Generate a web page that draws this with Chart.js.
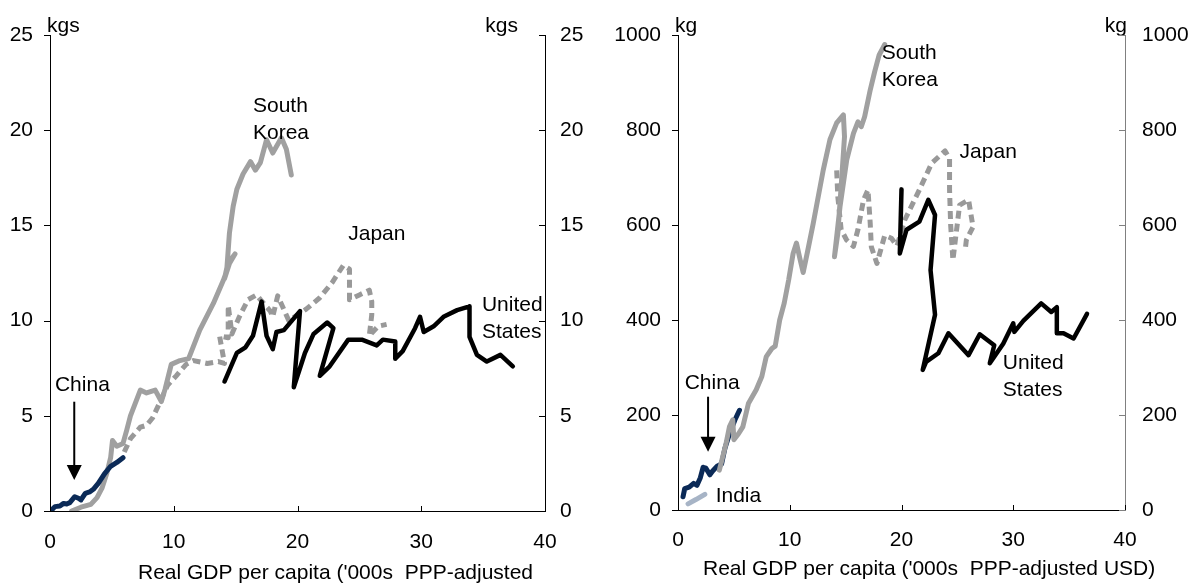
<!DOCTYPE html>
<html>
<head>
<meta charset="utf-8">
<script src="https://cdn.jsdelivr.net/npm/chart.js@4/dist/chart.umd.min.js"></script>
<style>
  html, body { margin: 0; padding: 0; background: #fff; overflow: hidden; }
  .panel { position: absolute; top: 0; width: 596px; height: 583px; }
  #left { left: 0; }
  #right { left: 596px; }
</style>
</head>
<body>
<div class="panel" id="left"><canvas id="leftChart"></canvas></div>
<div class="panel" id="right"><canvas id="rightChart"></canvas></div>
<script>
// ticks
const xTicks = [0, 10, 20, 30, 40];
const kgsTicks = [0, 5, 10, 15, 20, 25];
const kgTicks = [0, 200, 400, 600, 800, 1000];

// left panel: kgs per capita  [gdp '000s, kgs]
const chinaKgs = [[0.13,0.05],[0.4,0.23],[0.8,0.26],[1.1,0.4],[1.35,0.37],[1.6,0.44],[2.0,0.75],[2.3,0.67],[2.5,0.58],[2.85,0.93],[3.2,1.0],[3.5,1.14],[3.9,1.45],[4.4,1.95],[4.9,2.35],[5.4,2.55],[5.9,2.8]];
const koreaKgs = [[1.75,0.0],[2.5,0.2],[3.3,0.35],[3.8,0.7],[4.2,1.2],[4.6,2.0],[4.9,2.8],[5.05,3.7],[5.4,3.4],[5.9,3.55],[6.2,4.25],[6.5,5.0],[7.3,6.35],[7.8,6.2],[8.5,6.35],[9.0,5.75],[9.3,6.4],[9.8,7.7],[10.5,7.9],[11.2,8.0],[12.1,9.5],[13.2,10.9],[14.0,12.1],[14.5,13.0],[14.95,13.5],[14.6,13.2],[14.1,12.2],[14.3,12.8],[14.5,14.6],[14.8,16.0],[15.1,16.9],[15.6,17.7],[16.2,18.35],[16.6,17.9],[17.0,18.3],[17.5,19.5],[18.0,18.8],[18.7,19.6],[19.1,19.0],[19.5,17.65]];
const japanKgs = [[6.0,3.1],[6.5,3.8],[7.3,4.4],[7.8,4.5],[8.3,4.9],[8.8,5.6],[9.5,6.6],[10.2,7.1],[11.0,7.7],[11.6,7.9],[12.7,7.75],[13.6,7.85],[14.1,7.75],[13.7,9.2],[14.4,9.1],[14.4,10.8],[14.7,9.3],[15.3,10.2],[16.0,11.1],[16.7,11.35],[17.0,11.1],[17.8,10.5],[18.0,10.2],[18.4,11.3],[19.3,10.0],[20.7,10.6],[21.8,11.2],[22.8,12.0],[23.7,12.9],[24.2,12.7],[24.2,11.1],[25.0,11.35],[25.8,11.6],[26.0,11.0],[26.0,10.3],[25.8,9.2],[26.5,9.7],[27.2,9.8]];
const usKgs = [[14.1,6.8],[14.5,7.4],[15.1,8.3],[15.8,8.6],[16.4,9.2],[17.1,11.0],[17.5,9.2],[18.0,8.5],[18.3,9.4],[18.9,9.5],[20.2,10.5],[19.7,6.5],[20.6,8.3],[21.3,9.3],[22.4,9.9],[22.9,9.6],[21.8,7.1],[22.6,7.6],[24.1,9.0],[25.2,9.0],[26.4,8.7],[26.9,9.0],[27.9,8.9],[27.9,8.0],[28.5,8.4],[29.5,9.6],[29.9,10.2],[30.2,9.4],[31.0,9.7],[31.8,10.2],[32.9,10.55],[33.9,10.75],[33.9,9.15],[34.5,8.2],[35.3,7.85],[36.4,8.2],[37.4,7.6]];

// right panel: kg per capita
const chinaKg = [[0.45,28],[0.6,45],[1.0,48],[1.4,56],[1.7,52],[2.0,68],[2.25,90],[2.5,88],[2.85,74],[3.1,82],[3.5,92],[3.9,97],[4.2,130],[4.6,160],[5.1,190],[5.5,210]];
const indiaKg = [[0.9,13],[1.6,22],[2.4,33]];
const koreaKg = [[3.7,84],[4.0,112],[4.3,140],[4.6,175],[4.9,190],[5.0,148],[5.4,160],[5.8,175],[6.3,224],[7.0,253],[7.5,281],[7.9,323],[8.4,340],[8.7,345],[9.1,400],[9.5,435],[9.9,484],[10.3,540],[10.6,562],[10.9,530],[11.2,500],[11.6,545],[12.1,603],[13.0,716],[13.6,780],[14.2,815],[14.8,832],[14.9,786],[14.6,681],[14.3,582],[14.0,533],[14.5,639],[15.1,737],[15.7,793],[16.1,817],[16.4,807],[16.7,828],[17.2,884],[17.6,923],[18.0,958],[18.5,980]];
const japanKg = [[14.2,715],[14.3,660],[14.6,590],[15.1,568],[15.7,555],[16.1,590],[16.6,653],[17.0,674],[17.2,604],[17.3,554],[17.8,519],[18.5,578],[19.1,572],[19.6,556],[20.3,611],[21.6,674],[22.7,730],[23.9,756],[24.3,740],[24.3,674],[24.4,600],[24.6,526],[25.2,642],[26.0,653],[26.4,596],[25.8,568],[25.7,547]];
const usKg = [[20.0,675],[19.85,540],[20.45,590],[21.6,607],[22.4,653],[23.0,621],[22.6,505],[23.0,411],[21.9,295],[22.2,312],[23.3,330],[24.2,372],[26.0,326],[27.0,370],[28.3,347],[27.9,309],[29.1,350],[30.0,393],[30.1,375],[30.9,398],[32.5,435],[33.4,417],[33.9,427],[33.9,372],[34.5,372],[35.4,361],[36.6,413]];

const FONT = "'Liberation Sans', Arial, sans-serif";
Chart.defaults.font.family = FONT;
Chart.defaults.font.size = 21;
Chart.defaults.color = '#000';

const GREY = '#a0a0a0';
const NAVY = '#0b2a57';

function pts(arr) {
  return arr.map(p => ({ x: p[0], y: p[1] }));
}

function line(data, color, width, dash) {
  return {
    data: pts(data),
    borderColor: color,
    borderWidth: width,
    borderDash: dash || [],
    borderCapStyle: dash ? 'butt' : 'round',
    borderJoinStyle: 'round',
    pointRadius: 0,
    tension: 0,
    fill: false,
    yAxisID: 'y'
  };
}

// small tick marks: y ticks stick out to the left, x ticks point up
const axisTicks = {
  id: 'axisTicks',
  afterDraw(chart) {
    const ctx = chart.ctx, a = chart.chartArea;
    ctx.save();
    ctx.lineWidth = 1;
    for (const s of Object.values(chart.scales)) {
      ctx.strokeStyle = s.options.border.color;
      s.ticks.forEach(t => {
        const p = Math.round(s.getPixelForValue(t.value)) + 0.5;
        ctx.beginPath();
        if (s.axis === 'x') {
          ctx.moveTo(p, a.bottom);
          ctx.lineTo(p, a.bottom - 5);
        } else {
          const x0 = s.position === 'left' ? a.left : a.right;
          ctx.moveTo(x0, p);
          ctx.lineTo(x0 - 6, p);
        }
        ctx.stroke();
      });
    }
    ctx.restore();
  }
};

const notes = {
  id: 'notes',
  afterDatasetsDraw(chart, args, opts) {
    const ctx = chart.ctx, a = chart.chartArea;
    const xs = chart.scales.x, ys = chart.scales.y;
    ctx.save();
    ctx.fillStyle = '#000';
    ctx.strokeStyle = '#000';
    ctx.font = '21px ' + FONT;
    ctx.textBaseline = 'middle';
    ctx.textAlign = 'left';
    opts.labels.forEach(l => {
      const px = xs.getPixelForValue(l.x), py = ys.getPixelForValue(l.y);
      l.text.forEach((t, i) => ctx.fillText(t, px, py + i * 27));
    });
    opts.arrows.forEach(ar => {
      const px = xs.getPixelForValue(ar.x);
      const y1 = ys.getPixelForValue(ar.from), y2 = ys.getPixelForValue(ar.to);
      ctx.lineWidth = 2;
      ctx.beginPath();
      ctx.moveTo(px, y1);
      ctx.lineTo(px, y2 - 14);
      ctx.stroke();
      ctx.beginPath();
      ctx.moveTo(px - 7.5, y2 - 15);
      ctx.lineTo(px + 7.5, y2 - 15);
      ctx.lineTo(px, y2);
      ctx.closePath();
      ctx.fill();
    });
    ctx.fillText(opts.unitLeft, a.left - 3, a.top - 9);
    ctx.textAlign = 'right';
    ctx.fillText(opts.unitRight, a.right + opts.unitRightDx, a.top - 9);
    ctx.textAlign = 'left';
    ctx.fillText(opts.title, opts.titleX, opts.titleY);
    ctx.restore();
  }
};

function yAxis(pos, ticks, width, pad, borderColor) {
  return {
    type: 'linear',
    position: pos,
    min: ticks[0],
    max: ticks[ticks.length - 1],
    afterBuildTicks: s => { s.ticks = ticks.map(v => ({ value: v })); },
    afterFit: s => { s.width = width; },
    grid: { drawOnChartArea: false, drawTicks: false },
    border: { display: true, color: borderColor, width: 1 },
    ticks: { padding: pad, font: { size: 21 }, callback: v => String(v) }
  };
}

function makeChart(id, cfg) {
  return new Chart(document.getElementById(id), {
    type: 'line',
    data: { datasets: cfg.datasets },
    plugins: [axisTicks, notes],
    options: {
      responsive: true,
      maintainAspectRatio: false,
      animation: false,
      events: [],
      layout: { padding: { top: 35, left: 0, right: 0, bottom: 0 } },
      scales: {
        x: {
          type: 'linear',
          min: 0,
          max: 40,
          afterBuildTicks: s => { s.ticks = xTicks.map(v => ({ value: v })); },
          afterFit: s => { s.height = cfg.xHeight; },
          grid: { drawOnChartArea: false, drawTicks: false },
          border: { display: true, color: '#000', width: 1 },
          ticks: { padding: cfg.xPad, maxRotation: 0, font: { size: 21 }, callback: v => String(v) }
        },
        y: yAxis('left', cfg.yTicks, cfg.leftW, cfg.leftPad, '#000'),
        y2: yAxis('right', cfg.yTicks, cfg.rightW, cfg.rightPad, cfg.rightBorder)
      },
      plugins: {
        legend: { display: false },
        tooltip: { enabled: false },
        notes: cfg.notes
      }
    }
  });
}

makeChart('leftChart', {
  datasets: [
    line(usKgs, '#000', 4.5),
    line(chinaKgs, NAVY, 5),
    line(koreaKgs, GREY, 5),
    line(japanKgs, '#999', 5, [8, 5])
  ],
  yTicks: kgsTicks,
  leftW: 50, rightW: 51, xHeight: 72,
  leftPad: 17, rightPad: 15, xPad: 19,
  rightBorder: '#000',
  notes: {
    labels: [
      { text: ['South', 'Korea'], x: 16.4, y: 21.27 },
      { text: ['Japan'], x: 24.1, y: 14.55 },
      { text: ['United', 'States'], x: 34.9, y: 10.8 },
      { text: ['China'], x: 0.4, y: 6.6 }
    ],
    arrows: [{ x: 1.96, from: 5.74, to: 1.63 }],
    unitLeft: 'kgs', unitRight: 'kgs', unitRightDx: -27,
    title: "Real GDP per capita ('000s  PPP-adjusted",
    titleX: 138, titleY: 573
  }
});

makeChart('rightChart', {
  datasets: [
    line(usKg, '#000', 4.5),
    line(koreaKg, GREY, 5),
    line(chinaKg, NAVY, 5),
    line(indiaKg, '#a7b4c6', 5),
    line(japanKg, '#999', 5, [8, 5])
  ],
  yTicks: kgTicks,
  leftW: 82, rightW: 67, xHeight: 73,
  leftPad: 17, rightPad: 17, xPad: 18,
  rightBorder: '#808080',
  notes: {
    labels: [
      { text: ['South', 'Korea'], x: 18.24, y: 962 },
      { text: ['Japan'], x: 25.2, y: 754 },
      { text: ['United', 'States'], x: 29.07, y: 309.5 },
      { text: ['China'], x: 0.6, y: 267 },
      { text: ['India'], x: 3.37, y: 29.5 }
    ],
    arrows: [{ x: 2.69, from: 238.5, to: 122.7 }],
    unitLeft: 'kg', unitRight: 'kg', unitRightDx: 2,
    title: "Real GDP per capita ('000s  PPP-adjusted USD)",
    titleX: 107, titleY: 569
  }
});
</script>
</body>
</html>
